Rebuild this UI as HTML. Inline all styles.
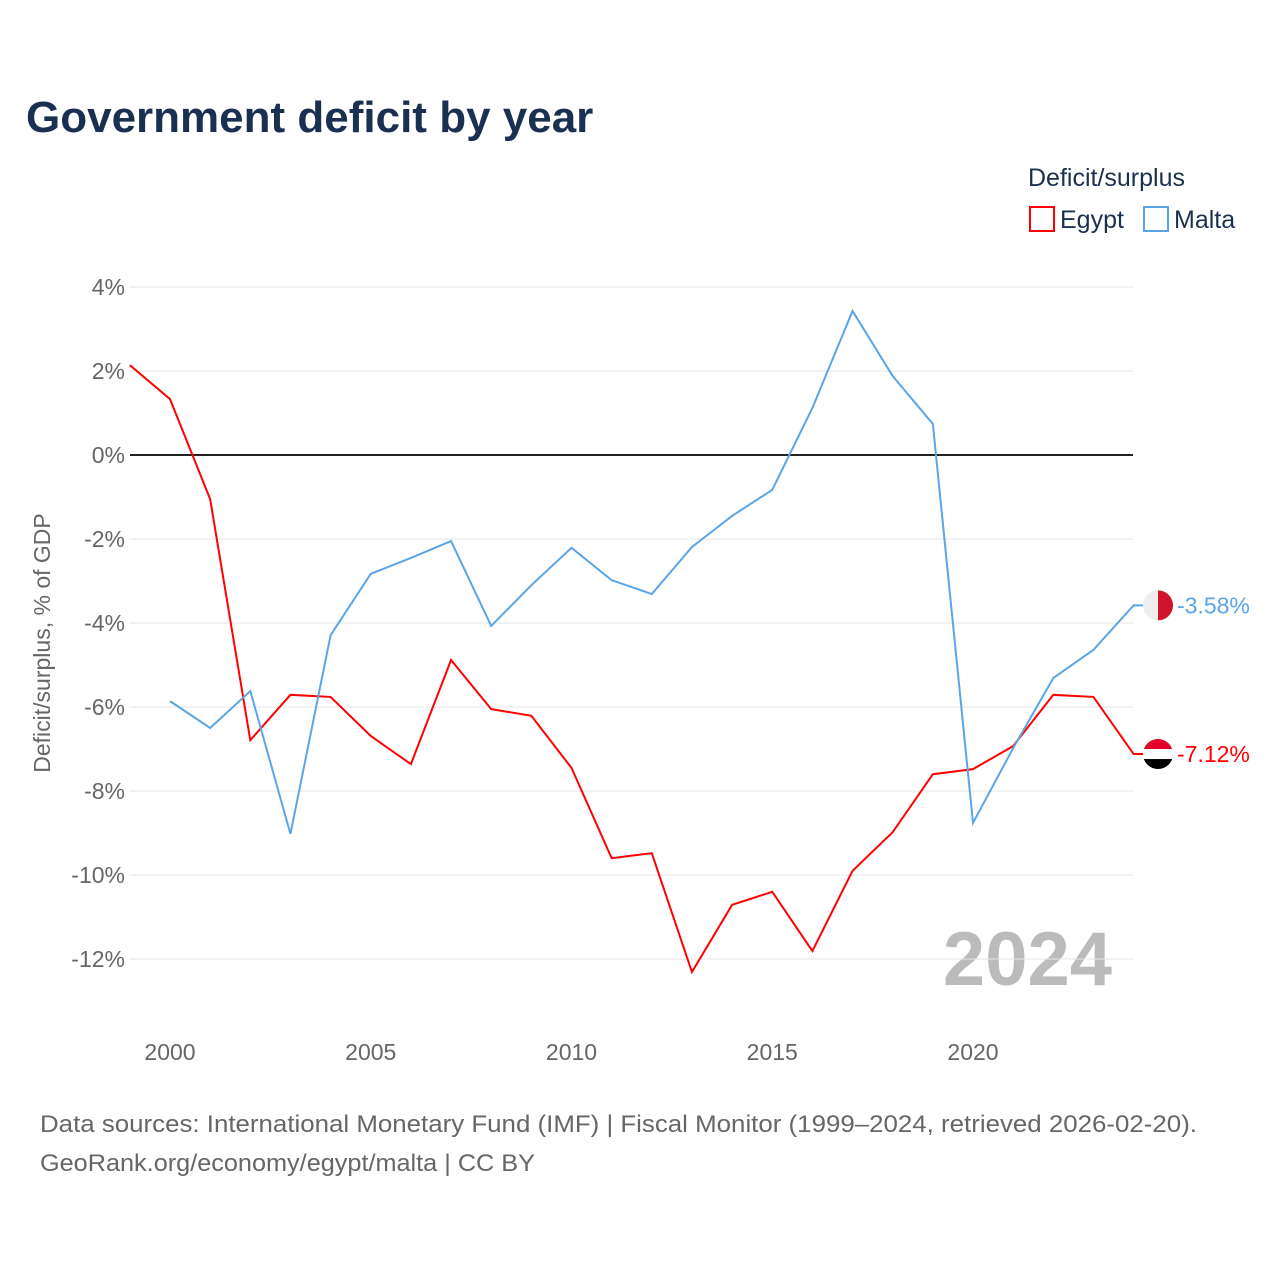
<!DOCTYPE html>
<html><head><meta charset="utf-8"><style>
body{margin:0;background:#fff;width:1280px;height:1280px;overflow:hidden;font-family:"Liberation Sans",sans-serif}
</style></head><body>
<svg id="chart" width="1280" height="1280" xmlns="http://www.w3.org/2000/svg">
<text x="26" y="132" font-size="44" font-weight="bold" fill="#1b3050">Government deficit by year</text>
<text x="1028" y="186" font-size="25" fill="#1b3050">Deficit/surplus</text>
<g><rect x="1030" y="207" width="24" height="24" fill="none" stroke="red" stroke-width="2"/><text x="1060" y="228" font-size="25" fill="#1b3050">Egypt</text></g>
<g><rect x="1144" y="207" width="24" height="24" fill="none" stroke="#5aa5e8" stroke-width="2"/><text x="1174" y="228" font-size="25" fill="#1b3050">Malta</text></g>
<text transform="translate(50,643) rotate(-90)" text-anchor="middle" font-size="23" fill="#666">Deficit/surplus, % of GDP</text>
<text x="1112" y="985" text-anchor="end" font-size="76" font-weight="bold" fill="#bbb">2024</text>
<g id="grid"></g><g id="lines"></g>
<text x="40" y="1132" font-size="24" fill="#666" textLength="1157" lengthAdjust="spacingAndGlyphs">Data sources: International Monetary Fund (IMF) | Fiscal Monitor (1999–2024, retrieved 2026-02-20).</text>
<text x="40" y="1171" font-size="24" fill="#666" textLength="495" lengthAdjust="spacingAndGlyphs">GeoRank.org/economy/egypt/malta | CC BY</text>
</svg>
<script>
const years=[1999,2000,2001,2002,2003,2004,2005,2006,2007,2008,2009,2010,2011,2012,2013,2014,2015,2016,2017,2018,2019,2020,2021,2022,2023,2024];
const egypt=[2.14,1.33,-1.05,-6.79,-5.71,-5.76,-6.69,-7.36,-4.88,-6.05,-6.21,-7.45,-9.6,-9.48,-12.31,-10.71,-10.4,-11.81,-9.9,-8.98,-7.6,-7.48,-6.93,-5.71,-5.76,-7.12];
const malta=[null,-5.86,-6.5,-5.62,-9.02,-4.29,-2.83,-2.45,-2.05,-4.07,-3.1,-2.21,-2.98,-3.31,-2.19,-1.45,-0.83,1.12,3.43,1.88,0.74,-8.76,-6.98,-5.31,-4.64,-3.58];
const yTicks=[4,2,0,-2,-4,-6,-8,-10,-12];
const xTicks=[2000,2005,2010,2015,2020];
const NS="http://www.w3.org/2000/svg";
const X=y=>170+(y-2000)*40.15, Y=v=>455-v*42;
const g=document.getElementById('grid'), L=document.getElementById('lines');
function el(t,a,p){const e=document.createElementNS(NS,t);for(const k in a)e.setAttribute(k,a[k]);p.appendChild(e);return e;}
yTicks.forEach(v=>{
 const l=el('line',{x1:130,x2:1133,y1:Y(v),y2:Y(v),stroke:v===0?'#222':'#e6e6e6','stroke-width':v===0?2:1},g);
 
 
 const t=el('text',{x:125,y:Y(v)+8,'text-anchor':'end','font-size':23,fill:'#666'},g);t.textContent=v+'%';
 
 
});
xTicks.forEach(v=>{
 const t=el('text',{x:X(v),y:1060,'text-anchor':'middle','font-size':23,fill:'#666'},g);t.textContent=v;
 
 
});
function series(vals,color,name){
 let d='';vals.forEach((v,i)=>{if(v===null)return;d+=(d?'L':'M')+X(years[i])+','+Y(v);});
 const last=vals[vals.length-1],cy=Y(last),cx=1158;
 d+='L'+(cx-14)+','+cy;
 const p=el('path',{d:d,fill:'none',stroke:color,'stroke-width':2},L);
 
 
 const f=el('g',{},L);
 
 
 if(name==='egypt'){
  el('clipPath',{id:'ce'},f);el('circle',{cx:cx,cy:cy,r:15},f.lastChild);
  el('rect',{x:cx-15,y:cy-15,width:30,height:10,fill:'#e4002b','clip-path':'url(#ce)'},f);
  el('rect',{x:cx-15,y:cy-5,width:30,height:10,fill:'#fff','clip-path':'url(#ce)'},f);
  el('rect',{x:cx-15,y:cy+5,width:30,height:10,fill:'#000','clip-path':'url(#ce)'},f);
 }else{
  el('clipPath',{id:'cm'},f);el('circle',{cx:cx,cy:cy,r:15},f.lastChild);
  el('rect',{x:cx-15,y:cy-15,width:15,height:30,fill:'#eee','clip-path':'url(#cm)'},f);
  el('rect',{x:cx,y:cy-15,width:15,height:30,fill:'#cf142b','clip-path':'url(#cm)'},f);
 }
 const t=el('text',{x:1177,y:cy+8,'font-size':23,fill:color},L);t.textContent=last.toFixed(2)+'%';
 
 
}
series(egypt,'#ff0000','egypt');
series(malta,'#5aa5e8','malta');
</script>
</body></html>
